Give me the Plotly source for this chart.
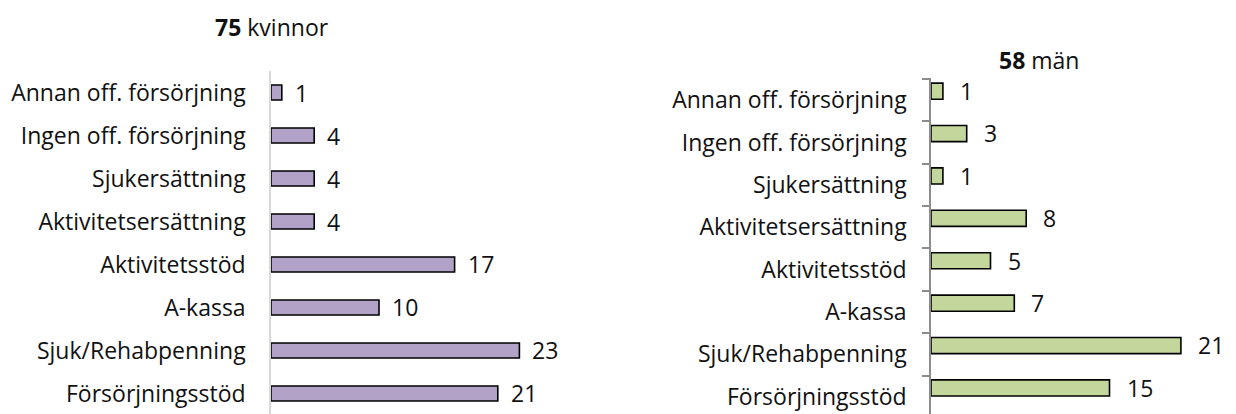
import plotly.graph_objects as go

# Categories (top to bottom)
categories = [
    "Annan off. försörjning",
    "Ingen off. försörjning",
    "Sjukersättning",
    "Aktivitetsersättning",
    "Aktivitetsstöd",
    "A-kassa",
    "Sjuk/Rehabpenning",
    "Försörjningsstöd",
]
women_values = [1, 4, 4, 4, 17, 10, 23, 21]
men_values = [1, 3, 1, 8, 5, 7, 21, 15]
women_total = 75
men_total = 58

W, H = 1236, 414
FONT = "Open Sans"
FS = 23
TXT = "#111111"
PURPLE = "#b3a2c7"
GREEN = "#c3d69b"


def px_x(p):
    return p / W


def px_y(p):
    return 1 - p / H


# vertical nudge of the men's category labels relative to the bars
men_shift = 0.02
men_width = 0.38

fig = go.Figure()

# Women (left panel)
fig.add_trace(go.Bar(
    y=categories, x=women_values, orientation="h",
    marker=dict(color=PURPLE, line=dict(color="#000000", width=1.6)),
    width=0.35, xaxis="x", yaxis="y", showlegend=False, hoverinfo="x+y",
))
# Men (right panel) - bars sit slightly above the label line
fig.add_trace(go.Bar(
    y=categories, x=men_values, orientation="h",
    marker=dict(color=GREEN, line=dict(color="#000000", width=1.6)),
    width=men_width, offset=-men_width - men_shift,
    xaxis="x2", yaxis="y2", showlegend=False, hoverinfo="x+y",
))

annotations = []
for c, v in zip(categories, women_values):
    annotations.append(dict(
        x=v, y=c, xref="x", yref="y", text=str(v), showarrow=False,
        xanchor="left", yanchor="middle", xshift=11,
        font=dict(family=FONT, size=FS, color=TXT),
    ))
for c, v in zip(categories, men_values):
    annotations.append(dict(
        x=v, y=c, xref="x2", yref="y2", text=str(v), showarrow=False,
        xanchor="left", yanchor="middle", xshift=15, yshift=9,
        font=dict(family=FONT, size=FS, color=TXT),
    ))

annotations.append(dict(
    x=px_x(272), y=px_y(27), xref="paper", yref="paper",
    text=f"<b>{women_total}</b> kvinnor", showarrow=False,
    xanchor="center", yanchor="middle",
    font=dict(family=FONT, size=FS, color=TXT),
))
annotations.append(dict(
    x=px_x(1039), y=px_y(60), xref="paper", yref="paper",
    text=f"<b>{men_total}</b> män", showarrow=False,
    xanchor="center", yanchor="middle",
    font=dict(family=FONT, size=FS, color=TXT),
))

left_x0, left_ppu, left_max = 271, 10.8, 25
right_x0, right_ppu, right_max = 931, 11.9, 24

fig.update_layout(
    width=W, height=H,
    margin=dict(l=0, r=0, t=0, b=0),
    paper_bgcolor="white", plot_bgcolor="white",
    font=dict(family=FONT, size=FS, color=TXT),
    annotations=annotations,
    xaxis=dict(
        domain=[px_x(left_x0), px_x(left_x0 + left_ppu * left_max)],
        range=[0, left_max], visible=False, fixedrange=True,
    ),
    yaxis=dict(
        domain=[0, px_y(71)], anchor="x",
        type="category", categoryorder="array", categoryarray=categories,
        range=[7.477, -0.5],
        showline=True, linecolor="#d9d9d9", linewidth=1.5,
        ticks="", showgrid=False, zeroline=False,
        ticklabelstandoff=19,
        tickfont=dict(family=FONT, size=FS, color=TXT),
        fixedrange=True,
    ),
    xaxis2=dict(
        domain=[px_x(right_x0), px_x(right_x0 + right_ppu * right_max)],
        range=[0, right_max], visible=False, fixedrange=True,
    ),
    yaxis2=dict(
        domain=[0, px_y(78)], anchor="x2",
        type="category", categoryorder="array", categoryarray=categories,
        range=[7.425 - men_shift, -0.5 - men_shift],
        showline=True, linecolor="#8c8c8c", linewidth=1.5,
        ticks="outside", ticklen=7, tickcolor="#8c8c8c", tickwidth=1.5,
        tickson="boundaries",
        showgrid=False, zeroline=False,
        ticklabelstandoff=18,
        tickfont=dict(family=FONT, size=FS, color=TXT),
        fixedrange=True,
    ),
)

fig.write_html("out.html")
